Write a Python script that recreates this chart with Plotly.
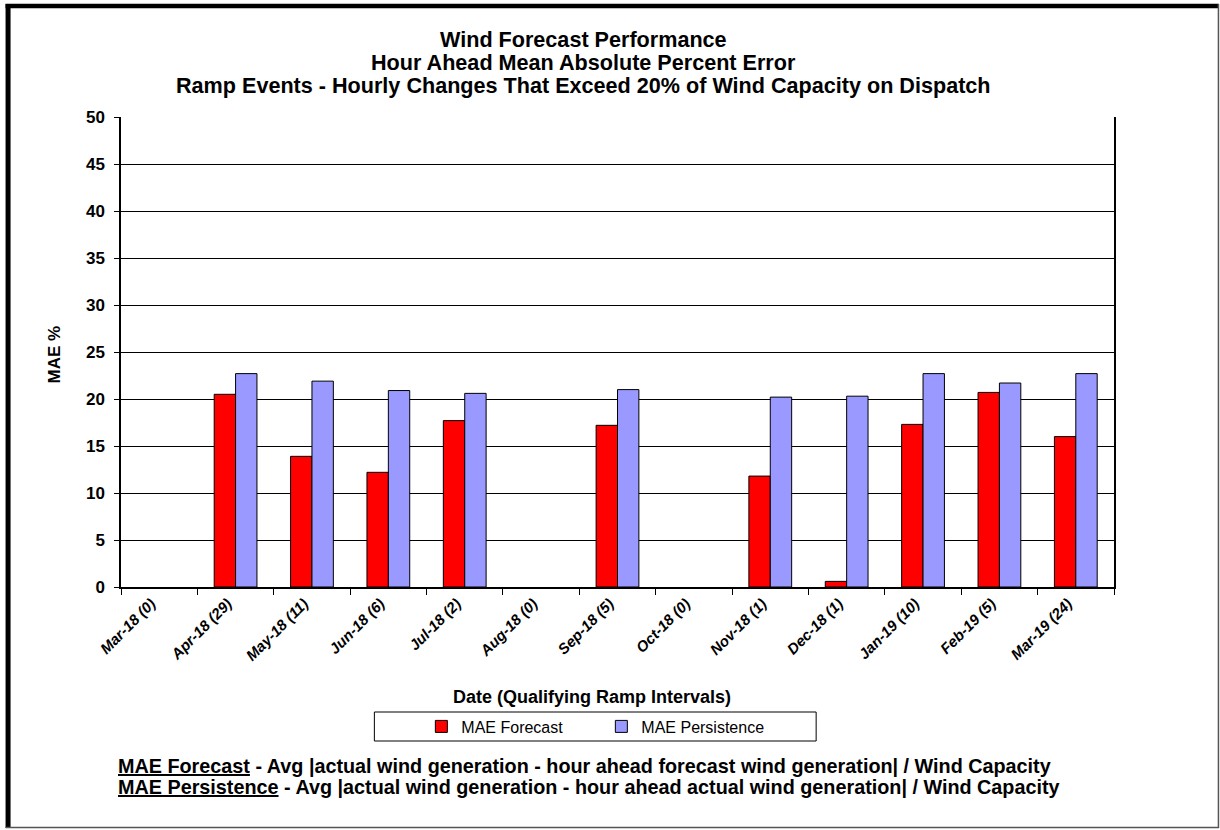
import plotly.graph_objects as go

categories = ["Mar-18 (0)", "Apr-18 (29)", "May-18 (11)", "Jun-18 (6)", "Jul-18 (2)",
              "Aug-18 (0)", "Sep-18 (5)", "Oct-18 (0)", "Nov-18 (1)", "Dec-18 (1)",
              "Jan-19 (10)", "Feb-19 (5)", "Mar-19 (24)"]
mae_forecast = [None, 20.5, 13.9, 12.2, 17.7, None, 17.2, None, 11.8, 0.6, 17.3, 20.7, 16.0]
mae_persistence = [None, 22.7, 21.9, 20.9, 20.6, None, 21.0, None, 20.2, 20.3, 22.7, 21.7, 22.7]
y_ticks = [0, 5, 10, 15, 20, 25, 30, 35, 40, 45, 50]
title_lines = ["Wind Forecast Performance",
               "Hour Ahead Mean Absolute Percent Error",
               "Ramp Events - Hourly Changes That Exceed 20% of Wind Capacity on Dispatch"]
note_terms = ["MAE Forecast", "MAE Persistence"]
note_texts = [" - Avg |actual wind generation - hour ahead forecast wind generation| / Wind Capacity",
              " - Avg |actual wind generation - hour ahead actual wind generation| / Wind Capacity"]

FONT = "Arial, Liberation Sans, sans-serif"
W, H = 1220, 830
L, R, T, B = 120.5, 106, 117, 243
PW, PH = W - L - R, H - T - B


def px(x):
    return (x - L) / PW


def py(y):
    return (H - B - y) / PH


fig = go.Figure()
fig.add_trace(go.Bar(x=categories, y=mae_forecast, name="MAE Forecast",
                     marker=dict(color="#FF0000", line=dict(color="black", width=1))))
fig.add_trace(go.Bar(x=categories, y=mae_persistence, name="MAE Persistence",
                     marker=dict(color="#9999FF", line=dict(color="black", width=1))))

fig.update_layout(
    width=W, height=H,
    margin=dict(l=L, r=R, t=T, b=B, pad=0),
    paper_bgcolor="white", plot_bgcolor="white",
    barmode="group", bargap=0.44, bargroupgap=0,
    font=dict(family=FONT, color="black"),
    showlegend=True,
    legend=dict(orientation="h", x=px(421), xanchor="left", y=py(726.5), yanchor="middle",
                font=dict(family=FONT, size=16, color="black"),
                entrywidth=135, bgcolor="rgba(0,0,0,0)", borderwidth=0,
                itemclick=False, itemdoubleclick=False),
)
fig.update_xaxes(
    type="category", tickangle=-45, tickson="boundaries",
    ticks="outside", ticklen=6, tickcolor="black", tickwidth=1,
    showline=True, linecolor="black", linewidth=2,
    showgrid=False, ticklabelshift=-8,
    tickfont=dict(family=FONT, size=15, color="black", weight="bold", style="italic"),
)
fig.update_yaxes(
    range=[0, 50], tickvals=y_ticks, ticktext=[str(v) for v in y_ticks],
    ticks="outside", ticklen=5, tickcolor="black", tickwidth=1,
    showline=True, linecolor="black", linewidth=1.5, mirror=True,
    showgrid=True, gridcolor="black", gridwidth=1, zeroline=False,
    tickfont=dict(family=FONT, size=17, color="black", weight="bold"),
    ticklabelstandoff=6,
)

for line, yc in zip(title_lines, [40, 63, 86]):
    fig.add_annotation(text="<b>" + line + "</b>", xref="paper", yref="paper", x=px(583), y=py(yc),
                       xanchor="center", yanchor="middle", showarrow=False,
                       font=dict(family=FONT, size=21.6, color="black"))
fig.add_annotation(text="<b>MAE %</b>", xref="paper", yref="paper", x=px(53), y=py(355),
                   xanchor="center", yanchor="middle", showarrow=False, textangle=-90,
                   font=dict(family=FONT, size=17, color="black"))
fig.add_annotation(text="<b>Date (Qualifying Ramp Intervals)</b>", xref="paper", yref="paper",
                   x=px(592), y=py(697), xanchor="center", yanchor="middle", showarrow=False,
                   font=dict(family=FONT, size=18, color="black"))
for term, txt, yc in zip(note_terms, note_texts, [766, 787]):
    fig.add_annotation(text="<b><u>" + term + "</u>" + txt + "</b>", xref="paper", yref="paper",
                       x=px(115), y=py(yc), xanchor="left", yanchor="middle", align="left",
                       showarrow=False, font=dict(family=FONT, size=19.8, color="black"))

# legend frame
fig.add_shape(type="rect", xref="paper", yref="paper", x0=px(374), x1=px(816), y0=py(712), y1=py(741),
              line=dict(color="black", width=1), fillcolor="rgba(0,0,0,0)", layer="below")
# outer frame
fig.add_shape(type="line", xref="paper", yref="paper", x0=px(5), x1=px(1219), y0=py(6), y1=py(6),
              line=dict(color="black", width=4.5))
fig.add_shape(type="line", xref="paper", yref="paper", x0=px(7.5), x1=px(7.5), y0=py(4), y1=py(828),
              line=dict(color="black", width=5))
fig.add_shape(type="line", xref="paper", yref="paper", x0=px(1218.5), x1=px(1218.5), y0=py(4), y1=py(828),
              line=dict(color="#555555", width=1.5))
fig.add_shape(type="line", xref="paper", yref="paper", x0=px(5), x1=px(1219), y0=py(827.5), y1=py(827.5),
              line=dict(color="#555555", width=1.5))

fig.write_html("out.html", config={"displayModeBar": False},
               post_script="document.body.style.margin='0';document.body.style.overflow='hidden';")
